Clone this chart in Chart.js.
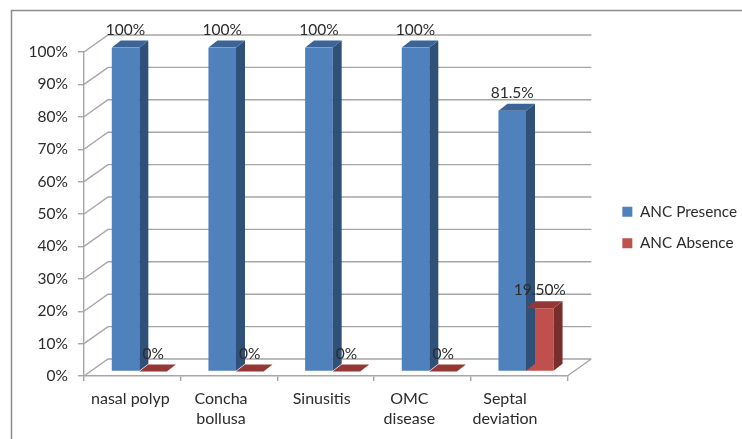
<!DOCTYPE html>
<html>
<head>
<meta charset="utf-8">
<style>
  html, body { margin: 0; padding: 0; background: #fff; }
  #chart { display: block; }
</style>
<script src="https://cdn.jsdelivr.net/npm/chart.js@4"></script>
</head>
<body>
<canvas id="chart" width="742" height="439"></canvas>
<script>
const categories = [["nasal polyp"], ["Concha", "bollusa"], ["Sinusitis"], ["OMC", "disease"], ["Septal", "deviation"]];
const ancPresence = [100, 100, 100, 100, 80.5];
const ancAbsence = [0, 0, 0, 0, 19.5];
const presenceLabels = ["100%", "100%", "100%", "100%", "81.5%"];
const absenceLabels = ["0%", "0%", "0%", "0%", "19.50%"];
const yTicks = [0, 10, 20, 30, 40, 50, 60, 70, 80, 90, 100];

const FONT = "Lato, sans-serif";
const TEXT = "#2b2b2b";
const GRID = "#a6a6a6";
// 3d look: how far the back wall and the bars sit behind the front plane
const WALL = { x: 24, y: -17 };
const BAR_SHIFT = { x: 7, y: -4.5 };
const DEPTH = { x: 9, y: -7 };
const LEGEND_SHIFT = { x: 39, y: -18 };
// the category labels in the picture are not centred on their slots
const LABEL_NUDGE = [-2, -8, -4, -13, -14];
const SHADES = [
    { front: "#4f81bd", side: "#2f5078", top: "#3b6596" },
    { front: "#c0504d", side: "#7a2e2c", top: "#953735" },
];

const wall3d = {
    id: "wall3d",
    afterLayout(chart) {
        const legend = chart.legend;
        legend.left += LEGEND_SHIFT.x;
        legend.right += LEGEND_SHIFT.x;
        legend.top += LEGEND_SHIFT.y;
        legend.bottom += LEGEND_SHIFT.y;
    },
    beforeDraw(chart) {
        const { ctx, chartArea: a, scales: { x, y } } = chart;
        x.getLabelItems().forEach((item, i) => {
            item.options.translation[0] += LABEL_NUDGE[i];
        });

        ctx.save();
        // frame round the picture, open on the right and at the bottom
        ctx.strokeStyle = "#8c8c8c";
        ctx.lineWidth = 1.5;
        ctx.beginPath();
        ctx.moveTo(11.5, 439);
        ctx.lineTo(11.5, 10.5);
        ctx.lineTo(742, 10.5);
        ctx.stroke();

        ctx.strokeStyle = GRID;
        ctx.lineWidth = 1.4;
        ctx.beginPath();
        yTicks.forEach((t) => {
            const py = y.getPixelForValue(t);
            ctx.moveTo(a.left, py);
            ctx.lineTo(a.left + WALL.x, py + WALL.y);
            ctx.lineTo(a.right + WALL.x, py + WALL.y);
        });
        ctx.moveTo(a.right, a.bottom);
        ctx.lineTo(a.right + WALL.x, a.bottom + WALL.y);
        ctx.stroke();
        ctx.restore();
    },
    beforeDatasetsDraw(chart) {
        chart.ctx.save();
        chart.ctx.translate(BAR_SHIFT.x, BAR_SHIFT.y);
    },
    afterDatasetsDraw(chart) {
        const ctx = chart.ctx;
        const poly = (color, pts) => {
            ctx.fillStyle = color;
            ctx.beginPath();
            pts.forEach((p, i) => (i ? ctx.lineTo(p[0], p[1]) : ctx.moveTo(p[0], p[1])));
            ctx.closePath();
            ctx.fill();
        };
        chart.data.datasets.forEach((ds, i) => {
            const shade = SHADES[i];
            chart.getDatasetMeta(i).data.forEach((bar) => {
                const half = bar.width / 2;
                const l = bar.x - half, r = bar.x + half;
                const t = bar.y, b = bar.base;
                poly(shade.side, [[r, t], [r + DEPTH.x, t + DEPTH.y], [r + DEPTH.x, b + DEPTH.y], [r, b]]);
                poly(shade.top, [[l, t], [l + DEPTH.x, t + DEPTH.y], [r + DEPTH.x, t + DEPTH.y], [r, t]]);
            });
        });
        ctx.restore();

        // value labels go over every bar
        ctx.save();
        ctx.font = `15.5px ${FONT}`;
        ctx.fillStyle = TEXT;
        ctx.textAlign = "center";
        ctx.textBaseline = "middle";
        [presenceLabels, absenceLabels].forEach((labels, i) => {
            chart.getDatasetMeta(i).data.forEach((bar, j) => {
                ctx.fillText(labels[j], bar.x + BAR_SHIFT.x, bar.y + BAR_SHIFT.y - 18);
            });
        });
        ctx.restore();
    },
};

new Chart(document.getElementById("chart"), {
    type: "bar",
    data: {
        labels: categories,
        datasets: [
            { label: "ANC Presence", data: ancPresence, backgroundColor: SHADES[0].front },
            { label: "ANC Absence", data: ancAbsence, backgroundColor: SHADES[1].front },
        ],
    },
    options: {
        responsive: false,
        animation: false,
        events: [],
        layout: { padding: { top: 52, right: 34, bottom: 0, left: 0 } },
        datasets: { bar: { categoryPercentage: 0.57, barPercentage: 1 } },
        plugins: {
            tooltip: { enabled: false },
            legend: {
                position: "right",
                labels: {
                    boxWidth: 10,
                    boxHeight: 10,
                    padding: 16,
                    color: TEXT,
                    font: { family: FONT, size: 15.3 },
                },
            },
        },
        scales: {
            x: {
                afterFit: (axis) => { axis.height = 63; },
                grid: { drawOnChartArea: false, color: GRID, lineWidth: 1.4, tickLength: 5, offset: true },
                border: { color: GRID, width: 1.6 },
                ticks: {
                    color: TEXT,
                    font: { family: FONT, size: 16, lineHeight: 1.25 },
                    padding: 8,
                    maxRotation: 0,
                    autoSkip: false,
                },
            },
            y: {
                min: 0,
                max: 100,
                afterFit: (axis) => { axis.width = 84; },
                afterBuildTicks: (axis) => { axis.ticks = yTicks.map((value) => ({ value })); },
                grid: { drawOnChartArea: false, color: GRID, lineWidth: 1.4, tickLength: 6 },
                border: { color: GRID, width: 1.4 },
                ticks: {
                    color: TEXT,
                    font: { family: FONT, size: 15.5 },
                    padding: 10,
                    callback: (v) => `${v}%`,
                },
            },
        },
    },
    plugins: [wall3d],
});
</script>
</body>
</html>
